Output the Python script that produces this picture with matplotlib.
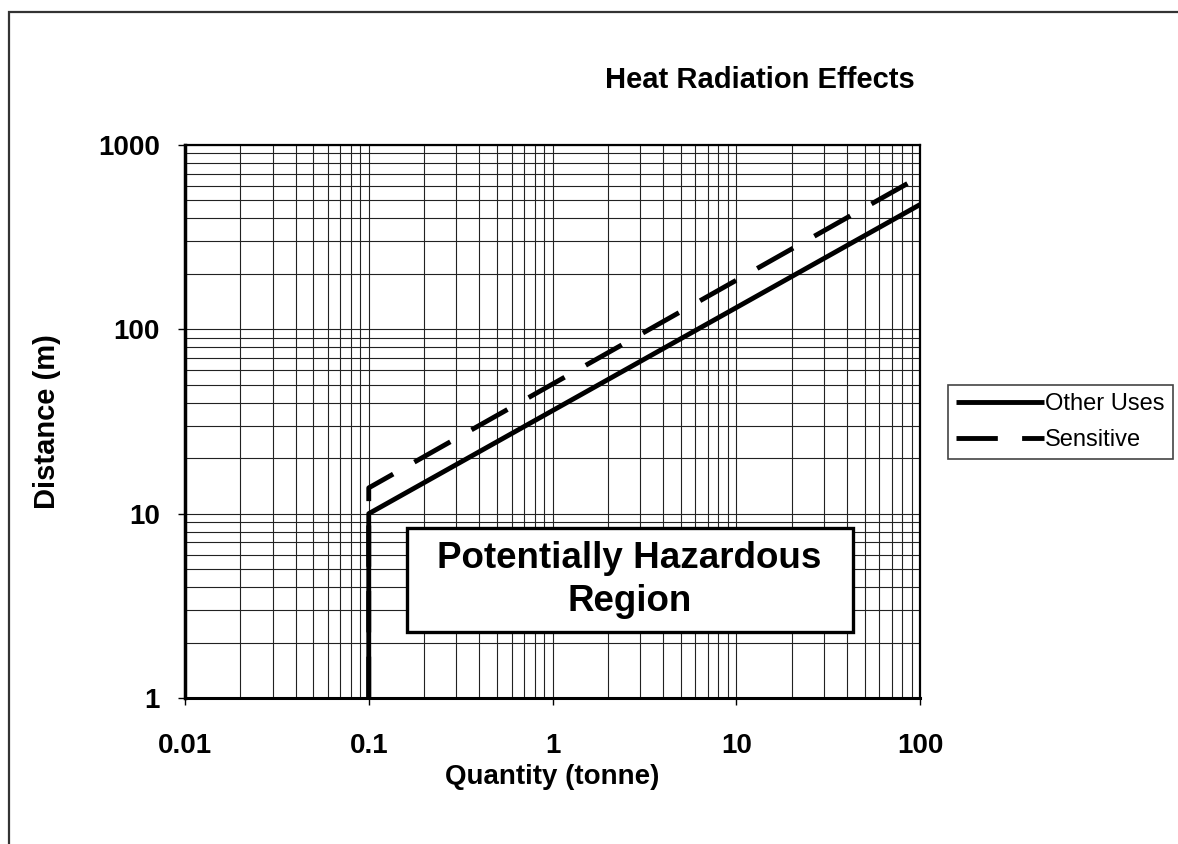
import matplotlib
matplotlib.use("Agg")
import matplotlib.pyplot as plt
from matplotlib.patches import Rectangle
from matplotlib.ticker import FixedLocator, FixedFormatter, NullFormatter, LogLocator

plt.rcParams['font.family'] = ['Liberation Sans', 'DejaVu Sans']

# -------- DATA --------
other_q = [0.1, 0.1, 100]
other_d = [1, 10, 475]

sens_q = [0.1, 0.1, 100]
sens_d = [1, 13.8, 675]

x_ticks = [0.01, 0.1, 1, 10, 100]
x_labels = ["0.01", "0.1", "1", "10", "100"]
y_ticks = [1, 10, 100, 1000]
y_labels = ["1", "10", "100", "1000"]

# -------- FIGURE --------
fig = plt.figure(figsize=(11.78, 8.44), dpi=100)
ax = fig.add_axes([185 / 1178, 1 - 698 / 844, 735 / 1178, 553 / 844])

# outer frame (cut off at right and bottom like the original)
fig.patches.append(Rectangle((8.5 / 1178, -0.2), 1.5, 0.2 + 1 - 11.5 / 844,
                             transform=fig.transFigure, fill=False,
                             edgecolor='#333333', linewidth=1.6))

ax.set_xscale('log')
ax.set_yscale('log')
ax.set_xlim(0.01, 100)
ax.set_ylim(1, 1000)

ax.plot(other_q, other_d, color='black', linewidth=3.5, label='Other Uses',
        solid_capstyle='butt')
ax.plot(sens_q, sens_d, color='black', linewidth=3.5, label='Sensitive',
        dashes=(8.5, 5))

# grid
ax.xaxis.set_minor_locator(LogLocator(base=10, subs=range(2, 10)))
ax.yaxis.set_minor_locator(LogLocator(base=10, subs=range(2, 10)))
ax.xaxis.set_minor_formatter(NullFormatter())
ax.yaxis.set_minor_formatter(NullFormatter())
ax.grid(True, which='both', color='#222222', linewidth=0.8)
ax.set_axisbelow(True)

ax.xaxis.set_major_locator(FixedLocator(x_ticks))
ax.xaxis.set_major_formatter(FixedFormatter(x_labels))
ax.yaxis.set_major_locator(FixedLocator(y_ticks))
ax.yaxis.set_major_formatter(FixedFormatter(y_labels))
ax.tick_params(which='minor', length=0)
ax.tick_params(which='major', direction='out', length=5, width=1, color='black')
ax.tick_params(axis='x', which='major', pad=20, labelsize=20)
ax.tick_params(axis='y', which='major', pad=13, labelsize=20)
for lab in ax.get_xticklabels() + ax.get_yticklabels():
    lab.set_fontweight('bold')

for s in ax.spines.values():
    s.set_linewidth(1.6)
ax.spines['left'].set_linewidth(2.5)
ax.spines['bottom'].set_linewidth(2.2)

ax.set_xlabel("Quantity (tonne)", fontsize=20, fontweight='bold', labelpad=4)
ax.set_ylabel("Distance (m)", fontsize=21, fontweight='bold', labelpad=27)

fig.text(915 / 1178, 1 - 80 / 844, "Heat Radiation Effects", fontsize=21,
         fontweight='bold', ha='right', va='center')

# hazard box
ax.add_patch(Rectangle((0.302, 0.119), 0.607, 0.188, transform=ax.transAxes,
                       facecolor='white', edgecolor='black', linewidth=2.4,
                       zorder=5))
ax.text(0.605, 0.213, "Potentially Hazardous\nRegion", transform=ax.transAxes,
        fontsize=26.5, fontweight='bold', ha='center', va='center',
        linespacing=1.3, zorder=6)

leg = fig.legend(loc='center left', bbox_to_anchor=(948 / 1178, 1 - 422 / 844),
                 fontsize=17, frameon=True, fancybox=False, edgecolor='#444444',
                 framealpha=1, handlelength=3.7, handletextpad=0.05,
                 borderpad=0.35, labelspacing=0.6, borderaxespad=0)
leg.get_frame().set_linewidth(1.2)

fig.savefig("out.png", dpi=100)
